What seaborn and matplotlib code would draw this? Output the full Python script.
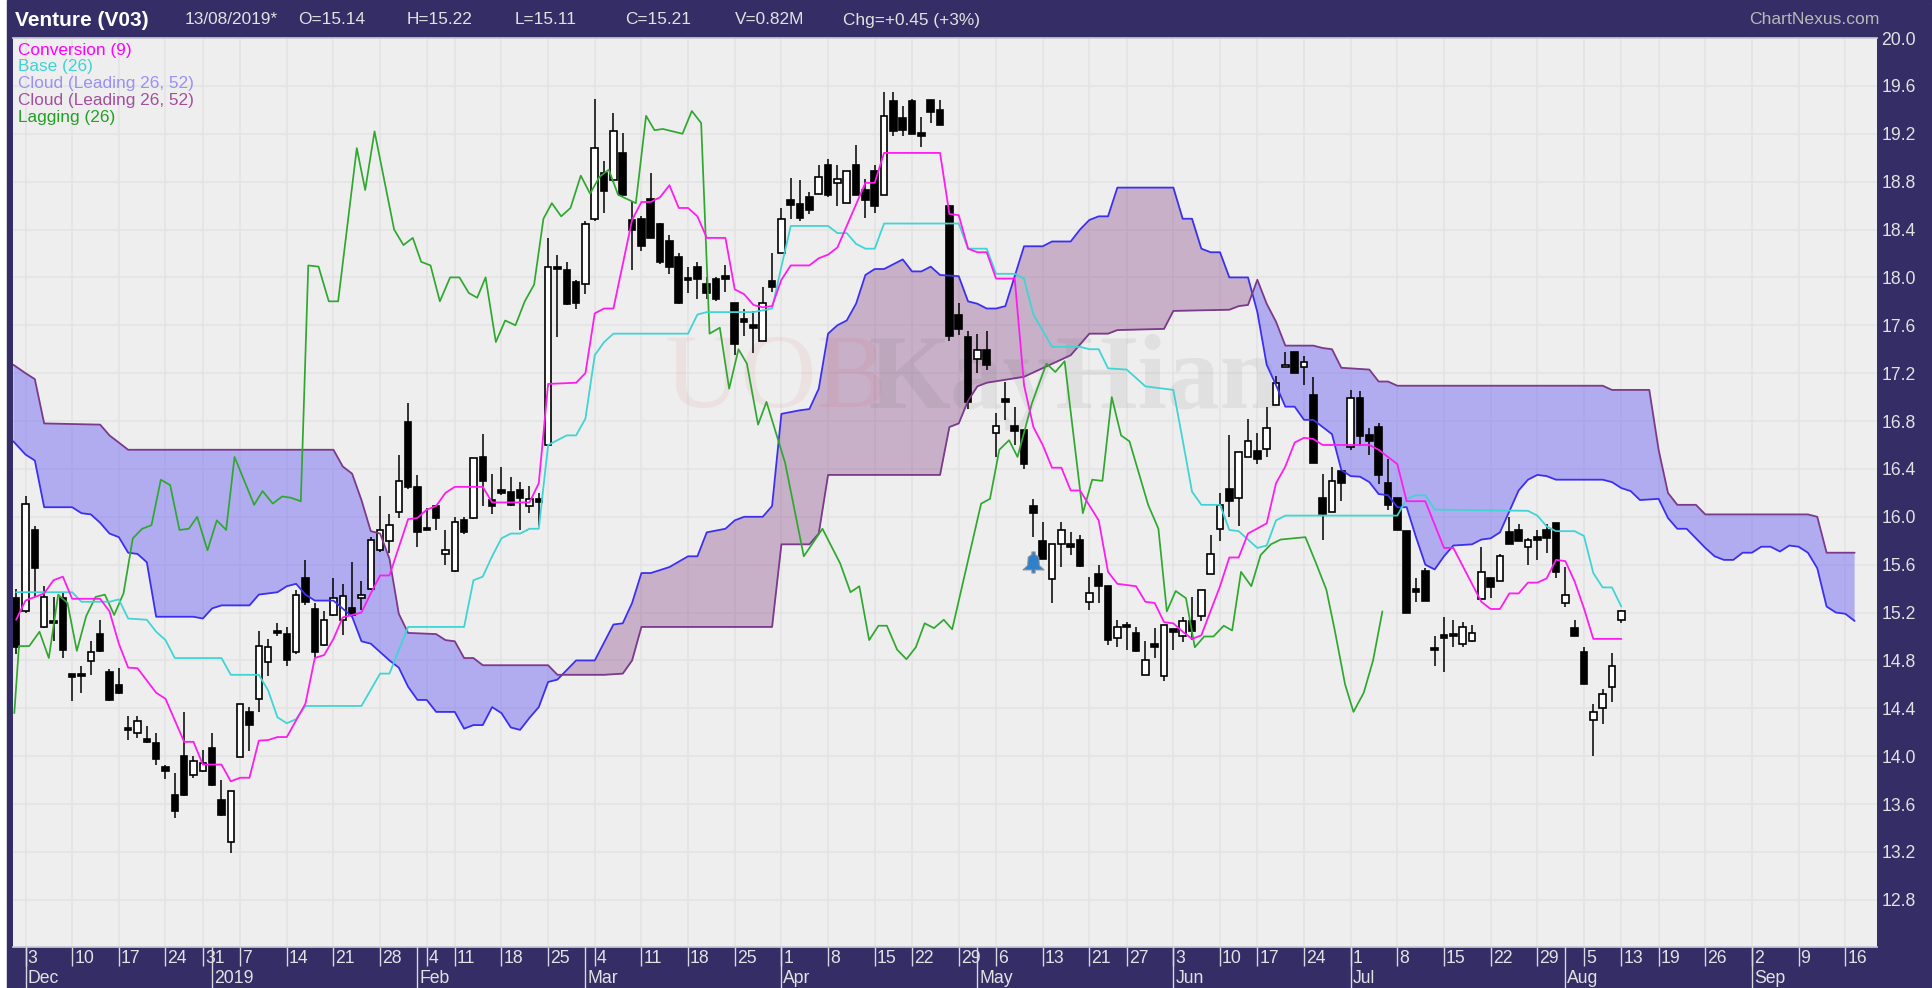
import numpy as np
import pandas as pd
import seaborn as sns
import matplotlib
matplotlib.use("Agg")
import matplotlib.pyplot as plt
from matplotlib.patches import Rectangle
from matplotlib.path import Path

# velas, de la sesion -1 a la 171 (10 por fila)
opens = [15.32,15.21,15.89,15.08,15.13,15.32,14.69,14.69,14.795,15.02,
         14.70,14.595,14.235,14.19,14.14,14.11,13.91,13.68,14.0,13.84,
         13.88,14.07,13.63,13.28,13.99,14.37,14.475,14.79,15.05,15.02,
         14.87,15.49,15.23,14.93,15.18,15.14,15.235,15.32,15.40,15.72,
         15.80,16.04,16.79,16.25,15.91,16.09,15.69,15.55,15.97,15.99,
         16.50,16.14,16.22,16.21,16.22,16.09,16.15,16.60,18.09,18.06,
         17.96,17.945,18.49,18.87,18.81,19.04,18.48,18.49,18.655,18.446,
         18.307,18.167,17.995,18.084,17.945,17.99,18.01,17.79,17.65,17.60,
         17.47,17.97,18.2,18.65,18.61,18.67,18.70,18.94,18.79,18.62,
         18.94,18.73,18.89,18.69,19.47,19.33,19.47,19.205,19.48,19.40,
         18.6,17.69,17.50,17.32,17.39,16.70,16.98,16.76,16.725,16.09,
         15.80,15.48,15.77,15.77,15.81,15.29,15.52,15.42,14.99,15.10,
         15.03,14.68,14.94,14.67,15.06,15.0,15.13,15.17,15.52,15.895,
         16.23,16.16,16.50,16.55,16.57,16.93,17.25,17.38,17.25,17.02,
         16.16,16.04,16.385,16.58,16.995,16.68,16.75,16.28,16.16,15.88,
         15.40,15.55,14.905,15.01,15.02,14.94,14.96,15.31,15.49,15.46,
         15.87,15.89,15.75,15.83,15.89,15.95,15.28,15.07,14.87,14.30,
         14.40,14.58,15.14]
highs = [15.40,16.17,15.92,15.42,15.33,15.36,14.69,14.75,14.96,15.14,
         14.73,14.74,14.336,14.34,14.25,14.19,13.93,13.86,14.37,14.0,
         14.05,14.19,13.80,13.71,14.44,14.41,15.05,14.98,15.11,15.08,
         15.39,15.64,15.28,15.21,15.49,15.44,15.62,15.46,15.83,16.17,
         16.02,16.52,16.95,16.35,16.07,16.10,15.89,16.0,16.0,16.49,
         16.69,16.36,16.42,16.33,16.29,16.26,16.2,18.33,18.19,18.13,
         17.98,18.47,19.49,18.97,19.37,19.21,18.63,18.51,18.87,18.457,
         18.354,18.2,18.09,18.13,18.0,18.0,18.1,17.79,17.74,17.72,
         17.92,18.2,18.58,18.83,18.81,18.71,18.94,18.99,18.94,18.89,
         19.11,18.82,18.94,19.55,19.55,19.43,19.49,19.34,19.48,19.48,
         18.6,17.79,17.55,17.53,17.55,16.87,17.13,16.92,16.725,16.15,
         15.96,15.77,15.96,15.875,15.85,15.5,15.6,15.42,15.14,15.12,
         15.08,14.96,15.07,15.10,15.06,15.16,15.33,15.39,15.85,16.2,
         16.68,16.54,16.82,16.70,16.92,17.18,17.38,17.38,17.34,17.17,
         16.36,16.42,16.385,17.06,17.05,16.74,16.78,16.48,16.16,15.88,
         15.49,15.57,15.0,15.165,15.14,15.12,15.10,15.75,15.49,15.69,
         16.0,15.94,15.82,15.89,15.94,15.95,15.58,15.14,14.91,14.44,
         14.56,14.86,15.22]
lows = [14.85,15.20,15.33,15.07,14.96,14.82,14.46,14.53,14.68,14.87,
        14.46,14.52,14.136,14.15,14.11,13.93,13.81,13.48,13.67,13.82,
        13.87,13.75,13.50,13.19,13.99,14.04,14.37,14.67,15.0,14.75,
        14.85,15.26,14.82,14.92,15.17,15.01,15.17,15.22,15.39,15.71,
        15.70,15.99,16.23,15.75,15.89,15.89,15.6,15.54,15.86,15.98,
        16.09,16.02,16.18,16.09,15.89,16.03,15.92,16.59,17.5,17.77,
        17.74,17.86,18.47,18.54,18.80,18.69,18.06,18.22,18.326,18.11,
        18.03,17.78,17.87,17.82,17.82,17.80,17.88,17.35,17.51,17.37,
        17.47,17.88,18.2,18.49,18.47,18.53,18.70,18.67,18.6,18.62,
        18.69,18.5,18.54,18.69,19.18,19.18,19.2,19.09,19.29,19.27,
        17.47,17.52,16.9,17.2,17.23,16.50,16.81,16.6,16.40,15.83,
        15.65,15.28,15.58,15.68,15.58,15.22,15.28,14.93,14.91,14.89,
        14.87,14.68,14.82,14.63,14.89,14.95,14.97,15.13,15.52,15.8,
        16.0,15.92,16.50,16.44,16.5,16.93,17.25,17.20,17.10,16.45,
        15.81,16.04,16.13,16.56,16.59,16.52,16.27,16.06,15.89,15.20,
        15.29,15.30,14.75,14.70,14.91,14.91,14.95,15.31,15.32,15.46,
        15.77,15.80,15.60,15.64,15.70,15.49,15.25,15.0,14.60,14.0,
        14.27,14.45,15.11]
closes = [14.915,16.11,15.57,15.33,15.11,14.89,14.66,14.67,14.87,14.88,
          14.47,14.525,14.215,14.29,14.12,13.98,13.88,13.54,13.68,13.96,
          13.94,13.76,13.51,13.71,14.44,14.26,14.92,14.91,15.03,14.80,
          15.35,15.29,14.87,15.14,15.32,15.34,15.18,15.35,15.81,15.89,
          15.93,16.30,16.25,15.875,15.89,15.99,15.72,15.96,15.875,16.49,
          16.30,16.09,16.20,16.10,16.16,16.15,16.12,18.09,18.07,17.78,
          17.79,18.445,19.08,18.72,19.22,18.69,18.40,18.26,18.326,18.126,
          18.09,17.79,17.975,17.986,17.867,17.82,17.99,17.44,17.63,17.58,
          17.79,17.92,18.49,18.605,18.50,18.56,18.84,18.69,18.82,18.89,
          18.69,18.65,18.60,19.35,19.22,19.23,19.20,19.185,19.38,19.27,
          17.51,17.57,16.96,17.39,17.27,16.76,16.96,16.72,16.44,16.03,
          15.65,15.77,15.89,15.75,15.59,15.366,15.42,14.97,15.08,15.08,
          14.88,14.80,14.91,15.10,15.04,15.13,15.05,15.39,15.69,16.10,
          16.135,16.54,16.63,16.48,16.74,17.12,17.27,17.20,17.295,16.45,
          16.02,16.30,16.285,16.99,16.675,16.63,16.35,16.10,15.89,15.20,
          15.37,15.30,14.885,14.99,15.0,15.08,15.03,15.54,15.41,15.67,
          15.77,15.80,15.81,15.81,15.82,15.54,15.35,15.0,14.60,14.367,
          14.52,14.75,15.21]
candle_x = list(range(-1, 172))

# lineas Ichimoku: sesion y valor
conv_x = [-1,0,2,3,4,5,8,9,10,11,12,14,15,17,18,19,21,22,23,24,25,26,27,28,29,30,31,32,33,34,36,37,38,39,
          41,42,43,44,45,46,49,50,54,55,56,59,60,61,62,63,65,66,67,68,69,70,71,72,73,75,76,77,78,79,80,81,
          82,84,85,86,87,90,91,92,98,99,100,101,102,103,104,106,107,108,109,110,111,112,113,115,116,117,
          119,120,121,122,123,124,125,126,128,129,130,131,133,134,135,136,137,138,139,144,145,147,148,150,
          152,153,156,157,158,159,160,161,162,163,164,165,166,167,168,171]
conv_y = [15.14,15.30,15.36,15.47,15.50,15.315,15.315,15.21,14.94,14.74,14.735,14.53,14.48,14.12,14.12,13.93,13.93,
          13.79,13.82,13.82,14.13,14.135,14.16,14.16,14.30,14.44,14.82,14.845,14.98,15.16,15.20,15.36,15.51,15.51,
          15.98,15.99,16.06,16.09,16.2,16.25,16.25,16.12,16.12,16.28,17.11,17.12,17.2,17.7,17.74,17.74,18.48,18.63,
          18.63,18.67,18.77,18.58,18.58,18.51,18.33,18.33,17.90,17.86,17.77,17.75,17.76,17.98,18.10,18.10,18.16,
          18.19,18.25,18.79,18.79,19.04,19.04,18.53,18.52,18.24,18.21,18.21,17.99,17.99,17.10,16.75,16.60,16.41,
          16.41,16.22,16.22,15.97,15.54,15.44,15.42,15.29,15.28,15.12,15.11,15.04,14.98,15.01,15.42,15.66,15.66,
          15.86,15.945,16.28,16.42,16.62,16.66,16.65,16.6,16.6,16.56,16.44,16.13,16.13,15.74,15.74,15.29,15.23,
          15.23,15.36,15.36,15.45,15.45,15.485,15.64,15.63,15.46,15.235,14.98,14.98]
base_x = [-1,5,6,9,10,11,13,14,15,16,21,22,25,26,27,28,29,30,36,38,39,41,47,48,49,50,51,52,53,54,55,56,58,59,60,
          61,62,63,71,72,73,78,80,81,82,86,87,88,89,90,91,92,100,101,103,104,106,107,108,110,113,114,115,116,
          118,120,123,124,125,126,128,129,130,132,133,134,135,147,148,149,150,151,161,162,163,164,166,167,168,
          169,170,171]
base_y = [15.37,15.37,15.29,15.29,15.31,15.15,15.14,15.04,14.97,14.82,14.82,14.68,14.68,14.55,14.325,14.275,14.31,
          14.42,14.42,14.69,14.69,15.08,15.08,15.47,15.50,15.67,15.82,15.86,15.86,15.90,15.90,16.60,16.68,16.68,
          16.82,17.35,17.46,17.53,17.53,17.69,17.71,17.71,17.74,18.09,18.43,18.43,18.37,18.37,18.28,18.24,18.24,
          18.45,18.45,18.24,18.24,18.03,18.03,17.99,17.69,17.42,17.42,17.40,17.40,17.24,17.23,17.09,17.06,16.64,
          16.21,16.10,16.10,15.89,15.88,15.74,15.76,15.97,16.01,16.01,16.15,16.18,16.18,16.06,16.05,16.01,15.92,
          15.88,15.88,15.84,15.53,15.41,15.41,15.25]
lag_x = [-1.2,-0.7,0.4,1.5,2.5,3.5,4.5,5.5,6.5,7.5,8.5,9.5,10.5,11.5,12.5,13.5,14.5,15.5,16.5,17.5,18.4,19.5,20.5,
         21.5,22.4,24.5,25.4,26.5,27.5,28.4,29.5,30.3,31.4,32.5,33.5,35.5,36.4,37.4,39.5,40.5,41.5,42.4,43.4,44.4,
         45.5,46.5,47.5,48.4,49.3,50.4,51.4,52.5,53.5,54.5,55.5,56.4,57.4,58.4,59.5,60.5,61.5,62.5,63.5,65.4,66.5,
         67.4,68.3,70.4,71.4,72.4,73.3,74.4,75.4,76.4,77.3,78.5,79.4,81.4,83.4,85.4,87.3,88.4,89.35,90.4,91.4,92.3,
         93.4,94.4,95.4,96.35,97.35,98.4,99.3,102.4,103.35,104.35,105.4,106.3,107.85,109.4,110.35,111.35,113.3,
         114.3,115.4,116.4,117.4,118.3,120.3,121.4,122.3,123.25,124.35,125.3,126.3,127.3,128.4,129.3,130.25,131.35,
         132.35,133.45,134.5,137.15,138.3,139.4,140.3,141.4,142.3,143.4,144.4,145.4]
lag_y = [14.36,14.92,14.92,15.04,14.82,15.35,15.28,14.88,15.17,15.33,15.35,15.18,15.36,15.82,15.90,15.93,16.31,16.265,
         15.89,15.90,16.0,15.72,15.97,15.89,16.50,16.10,16.215,16.11,16.17,16.16,16.13,18.10,18.09,17.80,17.80,19.08,
         18.73,19.22,18.40,18.27,18.33,18.13,18.10,17.80,18.0,18.0,17.87,17.83,18.0,17.46,17.64,17.60,17.80,17.94,
         18.49,18.62,18.51,18.58,18.85,18.70,18.84,18.90,18.69,18.62,19.35,19.23,19.24,19.20,19.39,19.29,17.53,17.58,
         17.07,17.40,17.28,16.77,16.96,16.45,15.67,15.90,15.61,15.37,15.42,14.97,15.09,15.09,14.89,14.81,14.91,15.11,
         15.07,15.14,15.06,16.11,16.15,16.56,16.64,16.50,16.95,17.28,17.21,17.30,16.03,16.31,16.30,17.0,16.68,16.63,
         16.10,15.90,15.21,15.38,15.32,14.91,15.0,15.0,15.09,15.05,15.54,15.42,15.68,15.77,15.81,15.83,15.61,15.39,
         15.05,14.60,14.37,14.53,14.80,15.21]

# nube
span_a_x = [-1.3,0,1,2,5,6,7,8,9,10,11,12,13,14,18,19,20,21,24,25,27,28,29,30,31,33,35,36,37,39,40,41,42,43,44,46,47,
            48,49,50,51,52,53,54,55,56,57,58,59,61,63,64,65,66,67,69,71,72,73,75,76,77,79,80,81,83,84,85,86,87,88,
            89,90,91,92,94,95,96,97,98,100,101,102,103,104,105,107,109,110,112,113,114,115,116,117,123,124,125,126,
            127,128,129,131,132,133,134,135,136,137,138,139,140,141,142,143,144,145,146,147,148,149,150,151,152,153,
            155,156,157,158,160,161,162,163,164,169,170,171,172,173,175,176,177,178,179,180,181,182,183,184,185,186,
            187,188,189,190,191,192,193,194,195,196]
span_a_y = [16.63,16.52,16.47,16.08,16.08,16.03,16.02,15.95,15.86,15.83,15.70,15.69,15.62,15.165,15.165,15.15,15.235,
            15.26,15.26,15.35,15.37,15.42,15.44,15.35,15.30,15.30,15.165,14.96,14.94,14.80,14.74,14.58,14.47,14.47,
            14.37,14.37,14.23,14.26,14.26,14.41,14.36,14.24,14.22,14.32,14.41,14.62,14.64,14.72,14.80,14.80,15.10,
            15.11,15.28,15.53,15.53,15.58,15.67,15.67,15.87,15.90,15.97,16.0,16.0,16.09,16.86,16.89,16.90,17.07,
            17.53,17.60,17.64,17.78,18.02,18.07,18.07,18.15,18.05,18.05,18.09,18.02,18.01,17.80,17.78,17.74,17.74,
            17.76,18.26,18.26,18.30,18.30,18.40,18.48,18.51,18.51,18.75,18.75,18.49,18.49,18.24,18.21,18.21,18.0,
            18.0,17.71,17.27,17.10,16.92,16.92,16.81,16.81,16.75,16.69,16.39,16.34,16.335,16.29,16.19,16.18,16.08,
            16.08,15.83,15.60,15.56,15.67,15.76,15.77,15.81,15.82,15.87,16.22,16.31,16.35,16.34,16.31,16.31,16.29,
            16.24,16.215,16.14,16.15,15.99,15.90,15.90,15.82,15.74,15.67,15.64,15.64,15.70,15.70,15.75,15.75,15.71,
            15.76,15.75,15.70,15.57,15.25,15.20,15.19,15.13]
span_b_x = [-1.3,0,1,2,5,8,9,11,33,34,35,36,37,38,39,40,41,44,45,46,47,48,49,56,57,62,64,65,66,80,81,84,85,86,98,99,
            100,101,102,103,107,112,114,116,117,122,123,129,130,131,132,133,134,135,138,139,140,141,144,145,146,147,
            169,170,174,175,176,177,179,180,191,192,193,196]
span_b_y = [17.27,17.20,17.15,16.78,16.775,16.77,16.68,16.56,16.56,16.42,16.36,16.14,15.88,15.86,15.65,15.19,15.03,
            15.02,14.97,14.96,14.82,14.82,14.76,14.76,14.68,14.68,14.69,14.80,15.08,15.08,15.77,15.77,15.86,16.35,
            16.35,16.75,16.78,16.97,17.09,17.12,17.17,17.35,17.53,17.53,17.56,17.57,17.72,17.73,17.76,17.77,17.98,
            17.78,17.63,17.43,17.43,17.41,17.40,17.245,17.23,17.13,17.13,17.095,17.095,17.06,17.06,16.56,16.20,16.10,
            16.10,16.02,16.02,16.0,15.70,15.70]

# ejes
y_ticks = [12.8,13.2,13.6,14.0,14.4,14.8,15.2,15.6,16.0,16.4,16.8,17.2,17.6,18.0,18.4,18.8,19.2,19.6,20.0]
day_pos = [0,5,10,15,19,23,28,33,38,43,46,51,56,61,66,71,76,81,86,91,95,100,104,109,114,118,123,128,132,137,142,147,
           152,157,162,167,171,175,180,185,190,195]
day_labels = ["3","10","17","24","31","7","14","21","28","4","11","18","25","4","11","18","25","1","8","15","22","29",
              "6","13","21","27","3","10","17","24","1","8","15","22","29","5","13","19","26","2","9","16"]
month_pos = [0,20,42,60,81,102,123,142,165,185]
month_labels = ["Dec","2019","Feb","Mar","Apr","May","Jun","Jul","Aug","Sep"]
header_x = [185,298,407,515,625,735,843]
header_labels = ["13/08/2019*","O=15.14","H=15.22","L=15.11","C=15.21","V=0.82M","Chg=+0.45 (+3%)"]
legend_labels = ["Conversion (9)","Base (26)","Cloud (Leading 26, 52)","Cloud (Leading 26, 52)","Lagging (26)"]
legend_colors = ["#ff00ff","#3fd3d3","#9a90f5","#a2509c","#22a022"]

BAND = "#352d66"
W, H = 1932, 988
sns.set_theme(style="white", rc={"axes.facecolor": "#eeeeee"})
plt.rcParams["font.family"] = ["Liberation Sans", "DejaVu Sans"]

fig = plt.figure(figsize=(W/100, H/100), dpi=100, facecolor="white")
fig.add_artist(Rectangle((7/W, 0), (1931-7)/W, 1, transform=fig.transFigure, color=BAND, zorder=-5))
ax = fig.add_axes([13/W, 1-947/H, (1877-13)/W, (947-38)/H])
ax.set_xlim(-1.34, 198.4)
ax.set_ylim(12.406, 20.0)

# rejilla
ax.set_axisbelow(True)
ax.set_yticks(y_ticks, [f"{v:.1f}" for v in y_ticks])
ax.yaxis.tick_right()
ax.tick_params(axis="y", length=0, pad=3, labelsize=12.7, labelcolor="#e2e2e2")
ax.set_xticks(day_pos, [""]*len(day_pos))
ax.tick_params(axis="x", length=14, width=1, color="#d8d8e0", direction="out", bottom=True, pad=0)
ax.grid(True, color="#e3e3e3", lw=1.1)
for s in ax.spines.values():
    s.set_visible(False)
ax.spines["top"].set_visible(True)
ax.spines["top"].set_color("#c9c9d2")
ax.spines["bottom"].set_visible(True)
ax.spines["bottom"].set_color("#c9c9d2")

# nube: se rellena sobre una malla comun
grid_x = np.union1d(span_a_x, span_b_x)
a_i = np.interp(grid_x, span_a_x, span_a_y)
b_i = np.interp(grid_x, span_b_x, span_b_y)
ax.fill_between(grid_x, a_i, b_i, where=a_i <= b_i, interpolate=True, color=(85/255, 75/255, 243/255, 0.4), lw=0, zorder=1)
ax.fill_between(grid_x, a_i, b_i, where=a_i >= b_i, interpolate=True, color=(143/255, 83/255, 145/255, 0.4), lw=0, zorder=1)

# marca de agua (coordenadas de pantalla, y desde abajo)
ax.text(665, H-382, "UOB", transform=None, family="Liberation Serif", fontsize=76, color="#d84040", alpha=0.07, va="center", zorder=1.5)
ax.text(868, H-382, "KayHian", transform=None, family="Liberation Serif", fontsize=76, weight="bold", color="#555555", alpha=0.09, va="center", zorder=1.5)

# velas
velas = pd.DataFrame({"x": candle_x, "o": opens, "h": highs, "l": lows, "c": closes})
velas["sube"] = velas["c"] >= velas["o"]
ax.vlines(velas["x"], velas["l"], velas["h"], color="black", lw=1.1, zorder=3)
ax.bar(velas["x"], (velas["c"]-velas["o"]).abs(), bottom=velas[["o", "c"]].min(axis=1), width=0.7,
       color=["white" if s else "black" for s in velas["sube"]], edgecolor="black", lw=1.2, zorder=3.2)

# lineas
for xs, ys, col, lw in [(span_a_x, span_a_y, "#3c2ff0", 1.3), (span_b_x, span_b_y, "#7b3a8a", 1.3),
                        (lag_x, lag_y, "#2fa82f", 1.25), (base_x, base_y, "#42d4d4", 1.3),
                        (conv_x, conv_y, "#ff1cf0", 1.3)]:
    df = pd.DataFrame({"x": xs, "y": ys})
    sns.lineplot(data=df, x="x", y="y", color=col, lw=lw, estimator=None, sort=False, errorbar=None, ax=ax, zorder=4)
ax.set_xlabel("")
ax.set_ylabel("")

# campana
bell = Path([(-1, -0.7), (-0.55, -0.3), (-0.5, 0.5), (-0.15, 0.75), (-0.15, 1), (0.15, 1), (0.15, 0.75),
             (0.5, 0.5), (0.55, -0.3), (1, -0.7), (0.15, -0.7), (0.15, -1), (-0.15, -1), (-0.15, -0.7), (-1, -0.7)], closed=True)
ax.scatter([108], [15.62], marker=bell, s=230, color="#2d80c9", edgecolor="#8a8f98", lw=0.8, zorder=5)

# etiquetas del eje x
xt = ax.get_xaxis_transform()
for p, lab in zip(day_pos, day_labels):
    ax.annotate(lab, xy=(p, 0), xycoords=xt, xytext=(2, -11), textcoords="offset pixels", color="#e2e2e2",
                fontsize=12.7, va="center", ha="left", annotation_clip=False)
for p, lab in zip(month_pos, month_labels):
    ax.annotate(lab, xy=(p, 0), xycoords=xt, xytext=(2, -31), textcoords="offset pixels", color="#e2e2e2",
                fontsize=12.7, va="center", ha="left", annotation_clip=False)
    ax.plot([p, p], [0, -41/909], transform=xt, color="#d8d8e0", lw=1, clip_on=False, zorder=6)

# cabecera
fig.text(15/W, 1-21/H, "Venture (V03)", color="white", fontsize=15, weight="bold", va="center")
for x, lab in zip(header_x, header_labels):
    fig.text(x/W, 1-20/H, lab, color="#e2e2e2", fontsize=12.4, va="center")
fig.text(1879/W, 1-20/H, "ChartNexus.com", color="#b8b8b8", fontsize=12.6, va="center", ha="right")

# leyenda
for i, (lab, col) in enumerate(zip(legend_labels, legend_colors)):
    fig.text(18/W, 1-(50+16.9*i)/H, lab, color=col, fontsize=12.4, va="center")

fig.savefig("out.png", dpi=100, facecolor=fig.get_facecolor())
